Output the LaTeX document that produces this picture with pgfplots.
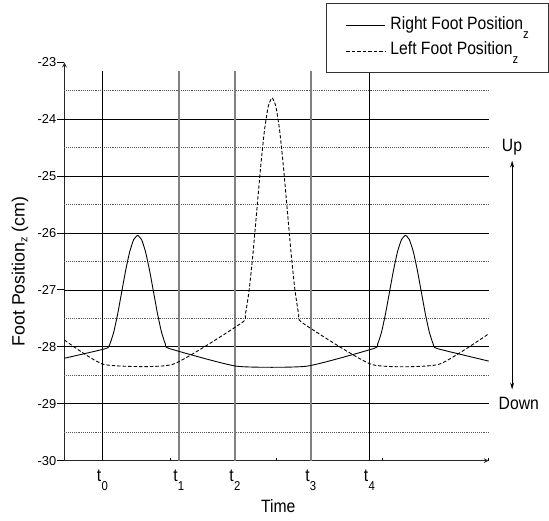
\documentclass[border=0pt]{standalone}
\usepackage{fontspec}
\setmainfont{Liberation Sans}[FakeStretch=0.88]
\newfontfamily\plainfont{Liberation Sans}
\usepackage{pgfplots}
\pgfplotsset{compat=1.18}
\usetikzlibrary{arrows.meta}
\newcommand\bigfont{\fontsize{18}{20}\selectfont}
\newcommand\lsub[1]{\raisebox{-9pt}{\fontsize{13}{13}\selectfont #1}}
\newcommand\tl[1]{t\kern0.3pt\lsub{#1}}

\begin{document}
\begin{tikzpicture}
\begin{axis}[
  scale only axis, width=428pt, height=401.7pt,
  xmin=0, xmax=4, ymin=-30, ymax=-23, enlargelimits=false,
  axis lines=left,
  every non boxed x axis/.style={}, every non boxed y axis/.style={},
  axis line style={black!85, line width=1.2pt},
  clip=false,
  ytick={-30,-29,...,-23},
  ytick align=outside, xtick align=inside,
  major tick length=7pt,
  tick style={black, line width=1pt},
  xtick={1,2,3,4}, xticklabels={,,,},
  xtick style={/pgfplots/major tick length=3pt},
  extra x ticks={0.358,1.0785,1.608,2.323,2.876},
  extra x tick labels={\tl{0},\tl{1},\tl{2},\tl{3},\tl{4}},
  extra x tick style={major tick length=0pt,
    xticklabel style={font=\bigfont, yshift=-6pt}},
  /pgf/number format/assume math mode=true,
  yticklabel style={font=\plainfont\fontsize{13}{15}\selectfont, inner xsep=1pt},
  xlabel={Time},
  xlabel style={font=\bigfont, at={(axis description cs:0.504,-0.1294)}, anchor=base},
  ylabel={\plainfont Foot Position\raisebox{-3pt}{\fontsize{11}{11}\selectfont z} (cm)},
  ylabel style={font=\bigfont, at={(axis description cs:-0.105,0.475)}, anchor=center},
  legend style={at={(0.6159,1.1486)}, anchor=north west, draw=black!80, line width=0.8pt,
    font=\bigfont, inner xsep=20pt, inner ysep=13pt, row sep=7.7pt, column sep=5pt,
    nodes={inner sep=0pt, text height=13pt, text depth=5pt}},
  legend cell align=left,
  legend image code/.code={\draw[#1] (0pt,0pt) -- (39pt,0pt);},
]
% horizontal reference lines
\addplot[black, line width=0.9pt, forget plot] coordinates {(0,-24) (4,-24)};
\addplot[black, line width=0.9pt, forget plot] coordinates {(0,-25) (4,-25)};
\addplot[black, line width=0.9pt, forget plot] coordinates {(0,-26) (4,-26)};
\addplot[black, line width=0.9pt, forget plot] coordinates {(0,-27) (4,-27)};
\addplot[black, line width=0.9pt, forget plot] coordinates {(0,-28) (4,-28)};
\addplot[black, line width=0.9pt, forget plot] coordinates {(0,-29) (4,-29)};
\addplot[black!65, densely dotted, line width=0.9pt, forget plot] coordinates {(0,-23.5) (4,-23.5)};
\addplot[black!65, densely dotted, line width=0.9pt, forget plot] coordinates {(0,-24.5) (4,-24.5)};
\addplot[black!65, densely dotted, line width=0.9pt, forget plot] coordinates {(0,-25.5) (4,-25.5)};
\addplot[black!65, densely dotted, line width=0.9pt, forget plot] coordinates {(0,-26.5) (4,-26.5)};
\addplot[black!65, densely dotted, line width=0.9pt, forget plot] coordinates {(0,-27.5) (4,-27.5)};
\addplot[black!65, densely dotted, line width=0.9pt, forget plot] coordinates {(0,-28.5) (4,-28.5)};
\addplot[black!65, densely dotted, line width=0.9pt, forget plot] coordinates {(0,-29.5) (4,-29.5)};
% event lines
\addplot[black, line width=0.9pt, forget plot] coordinates {(0.358,-23.15) (0.358,-30)};
\addplot[black!50, line width=1.4pt, forget plot] coordinates {(1.0785,-23.15) (1.0785,-30)};
\addplot[black!50, line width=1.4pt, forget plot] coordinates {(1.608,-23.15) (1.608,-30)};
\addplot[black!50, line width=1.4pt, forget plot] coordinates {(2.323,-23.15) (2.323,-30)};
\addplot[black, line width=0.9pt, forget plot] coordinates {(2.876,-23.15) (2.876,-30)};
% up/down arrow
\addplot[black, line width=0.8pt, {Stealth[length=7pt,width=4pt]}-{Stealth[length=7pt,width=4pt]}, forget plot]
  coordinates {(4.221,-24.725) (4.221,-28.75)};
% right foot
\addplot[black, line width=0.9pt, smooth, tension=0.3] coordinates {
  (0,-28.20) (0.39,-28.03) (0.4275,-27.954) (0.465,-27.739) (0.5025,-27.416) (0.54,-27.035)
  (0.5775,-26.654) (0.615,-26.331) (0.6525,-26.116) (0.69,-26.04) (0.7275,-26.116)
  (0.765,-26.331) (0.8025,-26.654) (0.84,-27.035) (0.8775,-27.416) (0.915,-27.739)
  (0.9525,-27.954) (0.99,-28.03) (1.624,-28.34) (2.284,-28.34) (2.915,-28.03)
  (2.9525,-27.954) (2.99,-27.739) (3.0275,-27.416) (3.065,-27.035) (3.1025,-26.654)
  (3.14,-26.331) (3.1775,-26.116) (3.215,-26.04) (3.2525,-26.116) (3.29,-26.331)
  (3.3275,-26.654) (3.365,-27.035) (3.4025,-27.416) (3.44,-27.739) (3.4775,-27.954)
  (3.515,-28.03) (4,-28.25)};
\addlegendentry{Right Foot Position\lsub{z}}
% left foot
\addplot[black, line width=0.9pt, dash pattern=on 3.5pt off 2pt, smooth, tension=0.3] coordinates {
  (0,-27.88) (0.373,-28.31) (1.017,-28.31) (1.67,-27.58) (1.7059,-27.429) (1.7419,-27.000)
  (1.7778,-26.358) (1.8138,-25.600) (1.8497,-24.842) (1.8856,-24.200) (1.9216,-23.771)
  (1.9575,-23.62) (1.9934,-23.771) (2.0294,-24.200) (2.0653,-24.842) (2.1013,-25.600)
  (2.1372,-26.358) (2.1731,-27.000) (2.2091,-27.429) (2.245,-27.58) (2.898,-28.31)
  (3.525,-28.31) (4,-27.77)};
\addlegendentry{Left Foot Position\lsub{z}}
\node[font=\bigfont, anchor=base] at (axis cs:4.22,-24.57) {Up};
\node[font=\bigfont, anchor=base west, inner sep=0pt] at (axis cs:4.093,-29.104) {Down};
\end{axis}
\path (-65pt,-60.3pt) rectangle (484pt,464.7pt);
\end{tikzpicture}
\end{document}
